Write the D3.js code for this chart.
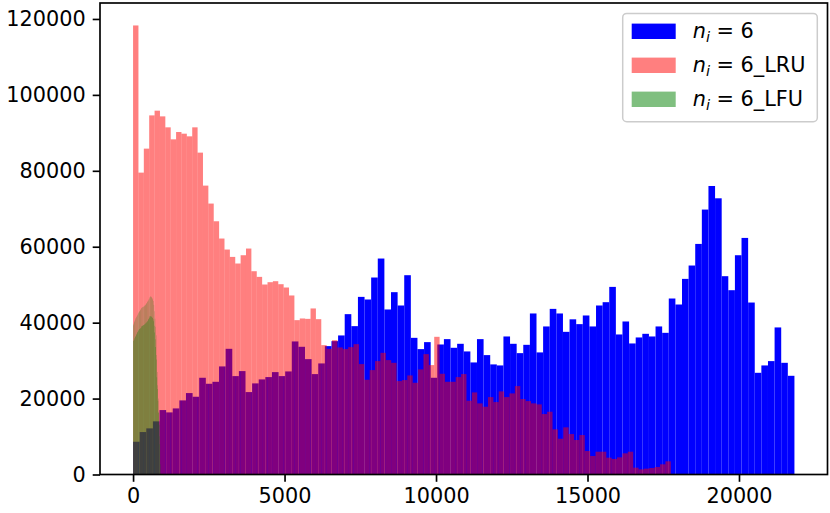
<!DOCTYPE html>
<html>
<head>
<meta charset="utf-8">
<script src="https://cdn.jsdelivr.net/npm/d3@7"></script>
<style>
body { margin: 0; background: #fff; }
svg { display: block; font-family: "DejaVu Sans", sans-serif; }
</style>
</head>
<body>
<div id="chart"></div>
<script>
// histogram counts, 100 equal bins per series
var plainCounts = [
  8630, 11180, 12150, 14000, 16970, 16360, 17410, 19520, 21450, 20480,
  25480, 23900, 24420, 28470, 33110, 25920, 27240, 21710, 24000, 25050,
  25660, 26970, 25920, 27150, 35050, 33640, 30390, 26450, 29260, 33820,
  35130, 36630, 42240, 39080, 46790, 46100, 51890, 56890, 43470, 48030,
  44520, 52500, 36000, 33030, 34870, 25480, 34250, 35660, 33380, 34430,
  32420, 29520, 35660, 31450, 29000, 28730, 36360, 34430, 31970, 34160,
  42420, 32160, 39000, 43630, 42420, 37580, 40880, 39610, 41890, 39000,
  44520, 45390, 49420, 36890, 40310, 34520, 36100, 37060, 36360, 39000,
  37320, 46360, 44780, 51530, 55050, 60740, 69790, 76000, 72760, 52240,
  48550, 57760, 62320, 45300, 26790, 28730, 29870, 38740, 29420, 26000
];
var plainRange = [0, 21830];

var lruCounts = [
  118290, 79520, 85840, 94600, 95840, 94340, 91450, 88290, 90220, 89780,
  89080, 91450, 84790, 76100, 71370, 66710, 62160, 59260, 57320, 55580,
  57760, 59520, 53550, 52060, 50050, 50660, 50920, 50130, 49260, 47160,
  40660, 41100, 41000, 43740, 40920, 34080, 33110, 35390, 33470, 33030,
  33550, 34340, 29080, 24950, 27500, 29870, 32050, 30130, 29420, 24610,
  24870, 26100, 24160, 27680, 31710, 28820, 36270, 26530, 24420, 24420,
  25660, 26450, 19430, 21620, 18730, 17850, 20390, 19080, 21890, 20390,
  21360, 23290, 19870, 19340, 18730, 18470, 15920, 16530, 11890, 9420,
  12420, 10650, 9080, 10390, 6180, 4870, 6000, 6000, 4430, 4080,
  4520, 5570, 6000, 1800, 1360, 1540, 1710, 1970, 2680, 3470
];
var lruRange = [0, 17750];

var lfuCounts = [
  39300, 35200, 39700, 35500, 40100, 35900, 40500, 36200, 40800, 36500,
  41200, 36800, 41500, 37100, 41800, 37400, 42100, 37600, 42400, 37900,
  42700, 38100, 42900, 38300, 43100, 38400, 43300, 38600, 43500, 38800,
  43800, 39100, 43950, 39200, 44050, 39200, 44150, 39300, 44250, 39400,
  44350, 39500, 44500, 39600, 44600, 39800, 44800, 40000, 45000, 40100,
  45200, 40300, 45450, 40500, 45700, 40800, 45900, 41000, 46300, 41300,
  46600, 41700, 46900, 41700, 46900, 41700, 46800, 41600, 46600, 41400,
  46400, 41200, 46100, 40900, 45700, 40400, 44700, 39200, 43000, 37400,
  41000, 35600, 38900, 33600, 36700, 30300, 31500, 25600, 27000, 22500,
  23500, 19400, 20000, 16200, 16500, 13200, 13000, 10100, 8000, 2700
];
var lfuRange = [0, 900];

var seriesLabels = ["6", "6_LRU", "6_LFU"];
var xTicks = [0, 5000, 10000, 15000, 20000];
var yTicks = [0, 20000, 40000, 60000, 80000, 100000, 120000];

var width = 830, height = 513;
var plotLeft = 100, plotRight = 827.5, plotTop = 3, plotBottom = 474.5;
var fontSize = 20.8;

function toBins(counts, range) {
  var w = (range[1] - range[0]) / counts.length;
  return counts.map(function (c, i) {
    return { x0: range[0] + i * w, x1: range[0] + (i + 1) * w, n: c };
  });
}

var plainBins = toBins(plainCounts, plainRange);
var lruBins = toBins(lruCounts, lruRange);
var lfuBins = toBins(lfuCounts, lfuRange);

var xMax = d3.max([plainRange[1], lruRange[1], lfuRange[1]]);
var x = d3.scaleLinear()
    .domain([-0.05 * xMax, 1.05 * xMax])
    .range([plotLeft, plotRight]);

var yMax = d3.max(plainCounts.concat(lruCounts, lfuCounts));
var y = d3.scaleLinear()
    .domain([0, yMax * 1.05])
    .range([plotBottom, plotTop]);

var svg = d3.select("#chart")
    .append("svg")
    .attr("width", width)
    .attr("height", height);

function drawBars(bins, fill, opacity) {
  svg.append("g")
    .selectAll("rect")
    .data(bins)
    .enter().append("rect")
    .attr("x", function (d) { return x(d.x0); })
    .attr("width", function (d) { return x(d.x1) - x(d.x0); })
    .attr("y", function (d) { return y(d.n); })
    .attr("height", function (d) { return y(0) - y(d.n); })
    .attr("fill", fill)
    .attr("fill-opacity", opacity);
}

drawBars(plainBins, "#0000ff", 1);
drawBars(lruBins, "#ff0000", 0.5);

// LFU bins are far thinner than a pixel, draw them as one stepped outline
var lfuSteps = lfuBins.concat([{ x0: lfuRange[1], n: lfuCounts[lfuCounts.length - 1] }]);
var area = d3.area()
    .curve(d3.curveStepAfter)
    .x(function (d) { return x(d.x0); })
    .y0(y(0))
    .y1(function (d) { return y(d.n); });

svg.append("path")
    .datum(lfuSteps)
    .attr("d", area)
    .attr("fill", "#008000")
    .attr("fill-opacity", 0.5);

// axes
var xAxis = svg.append("g")
    .attr("transform", "translate(0," + plotBottom + ")")
    .call(d3.axisBottom(x).tickValues(xTicks).tickSize(7.3).tickPadding(6).tickFormat(d3.format("d")));

var yAxis = svg.append("g")
    .attr("transform", "translate(" + plotLeft + ",0)")
    .call(d3.axisLeft(y).tickValues(yTicks).tickSize(7.3).tickPadding(7).tickFormat(d3.format("d")));

[xAxis, yAxis].forEach(function (a) {
  a.select(".domain").remove();
  a.selectAll("line").attr("stroke", "#000").attr("stroke-width", 1.67);
  a.selectAll("text")
    .attr("fill", "#000")
    .style("font-size", fontSize + "px")
    .style("font-family", "'DejaVu Sans', sans-serif");
});

svg.append("rect")
    .attr("x", plotLeft)
    .attr("y", plotTop)
    .attr("width", plotRight - plotLeft)
    .attr("height", plotBottom - plotTop)
    .attr("fill", "none")
    .attr("stroke", "#000")
    .attr("stroke-width", 1.67);

// legend
var legendColors = [["#0000ff", 1], ["#ff0000", 0.5], ["#008000", 0.5]];
var legend = svg.append("g");

legend.append("rect")
    .attr("x", 622.7)
    .attr("y", 13.4)
    .attr("width", 194.6)
    .attr("height", 108.3)
    .attr("rx", 4)
    .attr("fill", "#fff")
    .attr("fill-opacity", 0.8)
    .attr("stroke", "#cccccc")
    .attr("stroke-width", 1.5);

var rows = legend.selectAll(".row")
    .data(seriesLabels)
    .enter().append("g")
    .attr("class", "row")
    .attr("transform", function (d, i) { return "translate(0," + (31.2 + i * 34) + ")"; });

rows.append("rect")
    .attr("x", 631.7)
    .attr("y", -7.6)
    .attr("width", 44)
    .attr("height", 15.4)
    .attr("fill", function (d, i) { return legendColors[i][0]; })
    .attr("fill-opacity", function (d, i) { return legendColors[i][1]; });

var label = rows.append("text")
    .attr("x", 692.7)
    .attr("y", 7)
    .style("font-size", fontSize + "px");

label.append("tspan").attr("font-style", "italic").text("n");
label.append("tspan").attr("font-style", "italic").attr("font-size", "14.5px").attr("dy", 4).text("i");
label.append("tspan").attr("dy", -4).text(function (d) { return " = " + d; });
</script>
</body>
</html>
